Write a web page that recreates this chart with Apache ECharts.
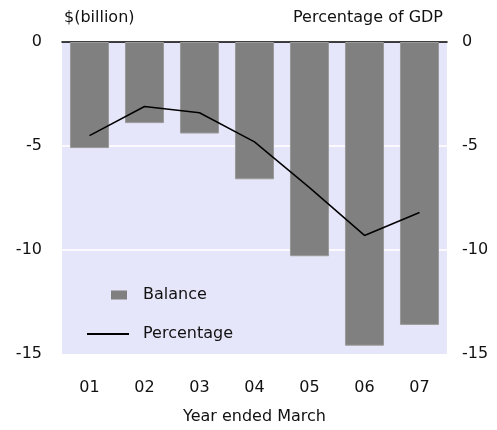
<!DOCTYPE html>
<html lang="en">
<head>
  <meta charset="UTF-8">
  <title>Balance</title>
  <style>
    html, body { margin: 0; padding: 0; background: #fff; }
    #chart { width: 497px; height: 430px; }
  </style>
</head>
<body>
<div id="chart"></div>
<script src="https://cdn.jsdelivr.net/npm/echarts@6/dist/echarts.min.js"></script>
<script>
  // year ended March
  const years = ['01', '02', '03', '04', '05', '06', '07'];
  // $(billion), left axis
  const balance = [-5.1, -3.9, -4.4, -6.6, -10.3, -14.6, -13.6];
  // percentage of GDP, right axis
  const percentage = [-4.5, -3.1, -3.4, -4.8, -7.0, -9.3, -8.2];

  const font = 'DejaVu Sans';
  const txt = { color: '#111', fontFamily: font, fontSize: 16 };

  const chart = echarts.init(document.getElementById('chart'));
  chart.setOption({
    animation: false,
    textStyle: { fontFamily: font },
    grid: {
      left: 62, right: 50, top: 42, bottom: 73,
      show: true, backgroundColor: '#e6e6fa', borderWidth: 0
    },
    legend: [
      {
        data: [{ name: 'Balance', icon: 'rect' }],
        orient: 'vertical',
        left: 106, top: 282,
        itemWidth: 16, itemHeight: 9,
        itemStyle: { borderWidth: 0 },
        textStyle: Object.assign({ padding: [0, 0, 0, 11] }, txt)
      },
      {
        data: [{ name: 'Percentage', icon: 'rect' }],
        orient: 'vertical',
        left: 82, top: 321,
        itemWidth: 42, itemHeight: 2,
        itemStyle: { color: '#000', borderWidth: 0 },
        textStyle: Object.assign({ padding: [0, 0, 0, 9] }, txt)
      }
    ],
    xAxis: [
      {
        type: 'category',
        data: years,
        position: 'bottom',
        axisLine: { show: false },
        axisTick: { show: false },
        axisLabel: Object.assign({ margin: 26 }, txt),
        name: 'Year ended March',
        nameLocation: 'middle',
        nameGap: 55,
        nameTextStyle: txt
      },
      {
        type: 'category',
        data: years,
        position: 'top',
        axisLine: { show: true, lineStyle: { color: '#000', width: 1.5 } },
        axisTick: { show: false },
        axisLabel: { show: false }
      }
    ],
    yAxis: [
      {
        type: 'value',
        min: -15, max: 0, interval: 5,
        axisLine: { show: false },
        axisTick: { show: false },
        axisLabel: Object.assign({ margin: 20 }, txt),
        splitLine: {
          show: true,
          lineStyle: { color: ['rgba(0,0,0,0)', '#fff', '#fff', 'rgba(0,0,0,0)'], width: 1.5 }
        },
        name: '$(billion)',
        nameLocation: 'end',
        nameGap: 16,
        nameTextStyle: Object.assign({ align: 'left', padding: [0, 0, 0, 2] }, txt)
      },
      {
        type: 'value',
        min: -15, max: 0, interval: 5,
        position: 'right',
        axisLine: { show: false },
        axisTick: { show: false },
        axisLabel: Object.assign({ margin: 15 }, txt),
        splitLine: { show: false },
        name: 'Percentage of GDP',
        nameLocation: 'end',
        nameGap: 16,
        nameTextStyle: Object.assign({ align: 'right', padding: [0, 4, 0, 0] }, txt)
      }
    ],
    series: [
      {
        name: 'Balance',
        type: 'bar',
        data: balance,
        xAxisIndex: 0,
        yAxisIndex: 0,
        barCategoryGap: '29%',
        itemStyle: { color: '#808080', borderColor: '#9a9a9a', borderWidth: 1 }
      },
      {
        name: 'Percentage',
        type: 'line',
        data: percentage,
        xAxisIndex: 0,
        yAxisIndex: 1,
        symbol: 'none',
        lineStyle: { color: '#000', width: 1.5 },
        itemStyle: { color: '#000' }
      }
    ]
  });
</script>
</body>
</html>
